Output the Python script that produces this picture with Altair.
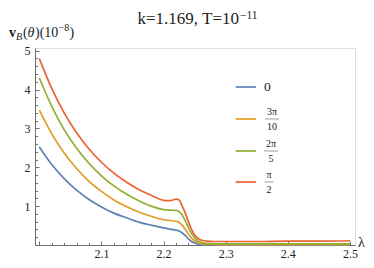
import altair as alt
import pandas as pd

# ---------------- data ----------------
lam = [2.00, 2.02, 2.04, 2.06, 2.08, 2.10, 2.12, 2.14, 2.16, 2.18, 2.20,
       2.21, 2.22, 2.225, 2.23, 2.235, 2.24, 2.245, 2.25, 2.255, 2.26, 2.27, 2.28,
       2.30, 2.35, 2.40, 2.45, 2.50]
v_0 = [2.52, 2.07, 1.71, 1.41, 1.17, 0.98, 0.82, 0.70, 0.59, 0.51, 0.44,
       0.41, 0.38, 0.36, 0.31, 0.24, 0.16, 0.09, 0.05, 0.02, 0.01, 0.0, 0.0,
       0.0, 0.0, 0.0, 0.0, 0.0]
v_3pi10 = [3.47, 2.86, 2.37, 1.97, 1.64, 1.38, 1.16, 0.99, 0.85, 0.74, 0.65,
           0.63, 0.61, 0.58, 0.51, 0.40, 0.28, 0.18, 0.11, 0.06, 0.035, 0.02, 0.015,
           0.01, 0.01, 0.01, 0.01, 0.01]
v_2pi5 = [4.30, 3.57, 2.97, 2.49, 2.10, 1.78, 1.52, 1.31, 1.14, 1.00, 0.91,
          0.90, 0.89, 0.86, 0.77, 0.62, 0.45, 0.30, 0.19, 0.11, 0.07, 0.04, 0.03,
          0.03, 0.03, 0.03, 0.03, 0.03]
v_pi2 = [4.80, 4.03, 3.40, 2.89, 2.47, 2.13, 1.85, 1.62, 1.43, 1.28, 1.15,
         1.14, 1.18, 1.16, 1.00, 0.82, 0.60, 0.40, 0.26, 0.18, 0.13, 0.10, 0.09,
         0.09, 0.09, 0.10, 0.10, 0.11]

series_names = ["0", "3π/10", "2π/5", "π/2"]
colors = ["#5E81B5", "#E19C24", "#8FB032", "#EB6235"]
legend_num = ["0", "3π", "2π", "π"]
legend_den = ["", "10", "5", "2"]

x_major = [2.1, 2.2, 2.3, 2.4, 2.5]
x_minor = [2.00, 2.02, 2.04, 2.06, 2.08, 2.10, 2.12, 2.14, 2.16, 2.18, 2.20,
           2.22, 2.24, 2.26, 2.28, 2.30, 2.32, 2.34, 2.36, 2.38, 2.40,
           2.42, 2.44, 2.46, 2.48, 2.50]
y_major = [1, 2, 3, 4, 5]
y_minor = [0.2, 0.4, 0.6, 0.8, 1.0, 1.2, 1.4, 1.6, 1.8, 2.0, 2.2, 2.4, 2.6, 2.8,
           3.0, 3.2, 3.4, 3.6, 3.8, 4.0, 4.2, 4.4, 4.6, 4.8, 5.0]

title_main = "k=1.169, T=10"
title_sup = "\u221211"

rows = []
for name, vals in zip(series_names, [v_0, v_3pi10, v_2pi5, v_pi2]):
    for l, v in zip(lam, vals):
        rows.append({"lam": l, "v": v, "theta": name})
df = pd.DataFrame(rows)

# ---------------- layout ----------------
W, H = 320, 197
X0, Y0 = 35, 48          # plot origin on the page
FONT = "'Liberation Serif', 'DejaVu Serif', serif"
AX = "#707070"
TXT = "#222222"

xscale = alt.Scale(domain=[1.99308, 2.50805], nice=False, zero=False)
yscale = alt.Scale(domain=[0, 5.07], nice=False, zero=False)
cscale = alt.Scale(domain=series_names, range=colors)

lines = alt.Chart(df).mark_line(strokeWidth=1.7, interpolate="monotone").encode(
    x=alt.X("lam:Q", scale=xscale,
            axis=alt.Axis(values=x_major, format=".1f", ticks=False, grid=False,
                          domainColor=AX, domainWidth=1, labelFont=FONT,
                          labelFontSize=12, labelColor=TXT, labelPadding=3,
                          labelFlush=False, title=None)),
    y=alt.Y("v:Q", scale=yscale,
            axis=alt.Axis(values=y_major, format="d", ticks=False, grid=False,
                          domainColor=AX, domainWidth=1, labelFont=FONT,
                          labelFontSize=12, labelColor=TXT, labelPadding=5,
                          title=None)),
    color=alt.Color("theta:N", scale=cscale, legend=None),
)

ticks = alt.Chart(df).mark_line(opacity=0).encode(
    x=alt.X("lam:Q", scale=xscale,
            axis=alt.Axis(orient="top", offset=-H, values=x_minor, labels=False,
                          domain=False, grid=False, tickColor=AX, tickWidth=1,
                          tickSize={"condition": {"test": "abs(datum.value*10 - round(datum.value*10)) < 0.001", "value": 4},
                                    "value": 2.5},
                          title=None)),
    y=alt.Y("v:Q", scale=yscale,
            axis=alt.Axis(orient="right", offset=-W, values=y_minor, labels=False,
                          domain=False, grid=False, tickColor=AX, tickWidth=1,
                          tickSize={"condition": {"test": "abs(datum.value - round(datum.value)) < 0.001", "value": 4},
                                    "value": 2.5},
                          title=None)),
    detail="theta:N",
)

one = pd.DataFrame({"k": [0]})


def txt(s, x, y, size, align="left", baseline="alphabetic", style="normal",
        weight="normal", color=TXT):
    return alt.Chart(one).mark_text(
        text=s, font=FONT, fontSize=size, align=align, baseline=baseline,
        fontStyle=style, fontWeight=weight, color=color
    ).encode(x=alt.value(x - X0), y=alt.value(y - Y0))


def rule(x1, x2, y, color, width):
    return alt.Chart(one).mark_rule(color=color, strokeWidth=width).encode(
        x=alt.value(x1 - X0), x2=alt.value(x2 - X0), y=alt.value(y - Y0))


deco = []
# title
deco.append(txt(title_main, 239, 23.5, 17, align="right"))
deco.append(txt(title_sup, 240, 18.5, 11.5, align="left"))
# y label
deco.append(txt("v", 9, 37, 14, weight="bold"))
deco.append(txt("B", 16, 40, 10, style="italic"))
deco.append(txt("(", 23, 37, 14))
deco.append(txt("θ", 27.5, 37, 14, style="italic"))
deco.append(txt(")(10", 35, 37, 14))
deco.append(txt("\u22128", 58.5, 31, 10))
deco.append(txt(")", 69.5, 37, 14))
# x label
deco.append(txt("λ", 361.5, 243, 14, align="center", baseline="middle"))

# legend
leg_y = [87, 119, 151, 182]
frac_cx = [0, 272, 271, 269]
frac_hw = [0, 7, 7, 4.5]
for i in range(4):
    deco.append(rule(235.7, 256, leg_y[i], colors[i], 1.7))
    if legend_den[i] == "":
        deco.append(txt(legend_num[i], 264, leg_y[i], 13.5, baseline="middle"))
    else:
        deco.append(txt(legend_num[i], frac_cx[i], leg_y[i] - 7, 10,
                        align="center", baseline="middle"))
        deco.append(rule(frac_cx[i] - frac_hw[i], frac_cx[i] + frac_hw[i],
                         leg_y[i], "#777777", 0.7))
        deco.append(txt(legend_den[i], frac_cx[i], leg_y[i] + 8, 10,
                        align="center", baseline="middle"))

chart = alt.layer(lines, ticks, *deco).resolve_axis(
    x="independent", y="independent"
).properties(
    width=W, height=H,
    padding={"left": X0 - 8, "top": Y0 - 8, "right": 358 - (X0 - 8) - W,
             "bottom": 252 - (Y0 - 8) - H},
    autosize=alt.AutoSizeParams(type="none"),
).configure_view(stroke=None).configure(background="white")

chart.save("out.html", embed_options={"renderer": "svg", "actions": False})
